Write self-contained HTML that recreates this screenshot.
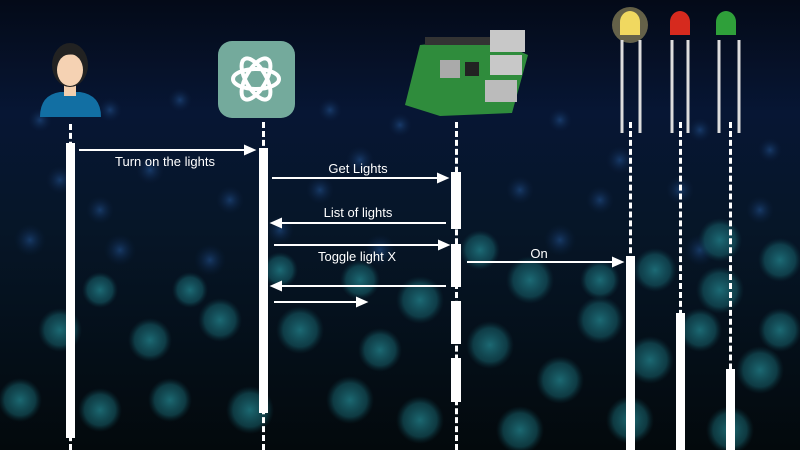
<!DOCTYPE html>
<html><head><style>
body{margin:0}
#c{position:relative;width:800px;height:450px;overflow:hidden;background:linear-gradient(180deg,#040a18 0%,#071634 25%,#061628 50%,#03090c 100%);font-family:"Liberation Sans",sans-serif;color:#fff}
.bar{position:absolute;background:#fff}
.dash{position:absolute;width:0;border-left:3px dashed #fff}
.t{position:absolute;font-size:13px;white-space:nowrap;transform:translateX(-50%)}
</style></head><body><div id="c">
<svg width="800" height="450" style="position:absolute;left:0;top:0">
<defs>
<radialGradient id="d"><stop offset="0" stop-color="#22808a" stop-opacity=".8"/><stop offset=".7" stop-color="#17606a" stop-opacity=".55"/><stop offset="1" stop-color="#0d3a44" stop-opacity="0"/></radialGradient>
<radialGradient id="b"><stop offset="0" stop-color="#1f4a82" stop-opacity=".7"/><stop offset="1" stop-color="#0b2040" stop-opacity="0"/></radialGradient>
</defs>
<g fill="url(#b)">
<circle cx="40" cy="120" r="12"/><circle cx="110" cy="110" r="12"/><circle cx="180" cy="100" r="12"/><circle cx="330" cy="110" r="12"/><circle cx="400" cy="125" r="12"/><circle cx="560" cy="120" r="12"/><circle cx="700" cy="130" r="12"/><circle cx="770" cy="150" r="12"/>
<circle cx="60" cy="180" r="14"/><circle cx="150" cy="170" r="14"/><circle cx="230" cy="200" r="14"/><circle cx="320" cy="190" r="14"/><circle cx="520" cy="190" r="14"/><circle cx="600" cy="200" r="14"/><circle cx="760" cy="210" r="14"/>
<circle cx="30" cy="240" r="16"/><circle cx="120" cy="250" r="16"/><circle cx="210" cy="260" r="16"/><circle cx="380" cy="250" r="16"/><circle cx="560" cy="240" r="16"/><circle cx="700" cy="250" r="16"/>
<circle cx="480" cy="90" r="12"/><circle cx="620" cy="160" r="14"/><circle cx="680" cy="190" r="14"/><circle cx="360" cy="160" r="14"/><circle cx="100" cy="210" r="14"/><circle cx="280" cy="230" r="14"/>
</g>
<g fill="url(#d)">
<circle cx="420" cy="300" r="24"/><circle cx="530" cy="280" r="24"/><circle cx="600" cy="320" r="24"/><circle cx="655" cy="270" r="22"/><circle cx="720" cy="290" r="24"/><circle cx="780" cy="260" r="22"/>
<circle cx="490" cy="345" r="24"/><circle cx="560" cy="380" r="24"/><circle cx="650" cy="360" r="24"/><circle cx="760" cy="370" r="24"/><circle cx="720" cy="240" r="22"/><circle cx="780" cy="330" r="22"/>
<circle cx="420" cy="420" r="24"/><circle cx="520" cy="430" r="24"/><circle cx="630" cy="420" r="24"/><circle cx="730" cy="430" r="24"/><circle cx="700" cy="330" r="22"/><circle cx="600" cy="280" r="20"/>
<circle cx="300" cy="330" r="24"/><circle cx="220" cy="320" r="22"/><circle cx="150" cy="340" r="22"/><circle cx="60" cy="330" r="22"/>
<circle cx="350" cy="400" r="24"/><circle cx="250" cy="410" r="24"/><circle cx="170" cy="400" r="22"/><circle cx="100" cy="410" r="22"/><circle cx="20" cy="400" r="22"/>
<circle cx="360" cy="280" r="20"/><circle cx="280" cy="270" r="18"/><circle cx="190" cy="290" r="18"/><circle cx="100" cy="290" r="18"/><circle cx="380" cy="350" r="22"/><circle cx="480" cy="250" r="20"/>
</g>
<path d="M40 117 Q40 95 60 92 L80 92 Q101 95 101 117 Z" fill="#126fa3"/>
<rect x="64" y="84" width="12" height="12" fill="#f3cfae"/>
<ellipse cx="70" cy="65" rx="18" ry="22" fill="#222"/>
<ellipse cx="70" cy="70" rx="13" ry="16" fill="#f5d2b3"/>
<path d="M54 60 Q60 42 78 47 Q88 52 87 66 Q80 52 66 55 Z" fill="#222"/>
<rect x="218" y="41" width="77" height="77" rx="14" fill="#74aa9c"/>
<g fill="none" stroke="#fff" stroke-width="4">
<ellipse cx="256" cy="79" rx="23" ry="10"/>
<ellipse cx="256" cy="79" rx="23" ry="10" transform="rotate(60 256 79)"/>
<ellipse cx="256" cy="79" rx="23" ry="10" transform="rotate(120 256 79)"/>
</g>
<path d="M405 105 L420 45 L490 38 L528 55 L512 113 L440 116 Z" fill="#2f8c3c"/>
<rect x="425" y="37" width="65" height="8" fill="#333"/>
<rect x="490" y="30" width="35" height="22" fill="#c8c8c8"/>
<rect x="490" y="55" width="32" height="20" fill="#c8c8c8"/>
<rect x="485" y="80" width="32" height="22" fill="#bbb"/>
<rect x="440" y="60" width="20" height="18" fill="#aaa"/>
<rect x="465" y="62" width="14" height="14" fill="#222"/>
<circle cx="630" cy="25" r="18" fill="#f5e08a" opacity=".4"/>
<path d="M620 35 V22 a10 11 0 0 1 20 0 V35 Z" fill="#f0d860"/>
<path d="M670 35 V22 a10 11 0 0 1 20 0 V35 Z" fill="#d62a1e"/>
<path d="M716 35 V22 a10 11 0 0 1 20 0 V35 Z" fill="#2fa03a"/>
<g stroke="#ddd" stroke-width="3" fill="none">
<path d="M622 40 V133 M640 40 V133"/><path d="M672 40 V133 M688 40 V133"/><path d="M719 40 V133 M739 40 V133"/>
</g>
<g stroke="#fff" stroke-width="2" fill="#fff">
<line x1="79" y1="150" x2="246" y2="150"/><path d="M254 150 L245 146 L245 154Z"/>
<line x1="272" y1="178" x2="440" y2="178"/><path d="M447 178 L438 174 L438 182Z"/>
<line x1="446" y1="223" x2="280" y2="223"/><path d="M272 223 L281 219 L281 227Z"/>
<line x1="274" y1="245" x2="440" y2="245"/><path d="M448 245 L439 241 L439 249Z"/>
<line x1="446" y1="286" x2="280" y2="286"/><path d="M272 286 L281 282 L281 290Z"/>
<line x1="274" y1="302" x2="358" y2="302"/><path d="M366 302 L357 298 L357 306Z"/>
<line x1="467" y1="262" x2="614" y2="262"/><path d="M622 262 L613 258 L613 266Z"/>
</g>
</svg>
<div class="dash" style="left:69px;top:124px;height:326px"></div>
<div class="dash" style="left:262px;top:122px;height:328px"></div>
<div class="dash" style="left:455px;top:122px;height:328px"></div>
<div class="dash" style="left:629px;top:122px;height:328px"></div>
<div class="dash" style="left:679px;top:122px;height:328px"></div>
<div class="dash" style="left:729px;top:122px;height:328px"></div>
<div class="bar" style="left:66px;top:143px;width:9px;height:295px"></div>
<div class="bar" style="left:259px;top:148px;width:9px;height:265px"></div>
<div class="bar" style="left:451px;top:172px;width:10px;height:57px"></div>
<div class="bar" style="left:451px;top:244px;width:10px;height:43px"></div>
<div class="bar" style="left:451px;top:301px;width:10px;height:43px"></div>
<div class="bar" style="left:451px;top:358px;width:10px;height:44px"></div>
<div class="bar" style="left:626px;top:256px;width:9px;height:194px"></div>
<div class="bar" style="left:676px;top:313px;width:9px;height:137px"></div>
<div class="bar" style="left:726px;top:369px;width:9px;height:81px"></div>
<div class="t" style="left:165px;top:154px">Turn on the lights</div>
<div class="t" style="left:358px;top:161px">Get Lights</div>
<div class="t" style="left:358px;top:205px">List of lights</div>
<div class="t" style="left:357px;top:249px">Toggle light X</div>
<div class="t" style="left:539px;top:246px">On</div>
</div></body></html>
